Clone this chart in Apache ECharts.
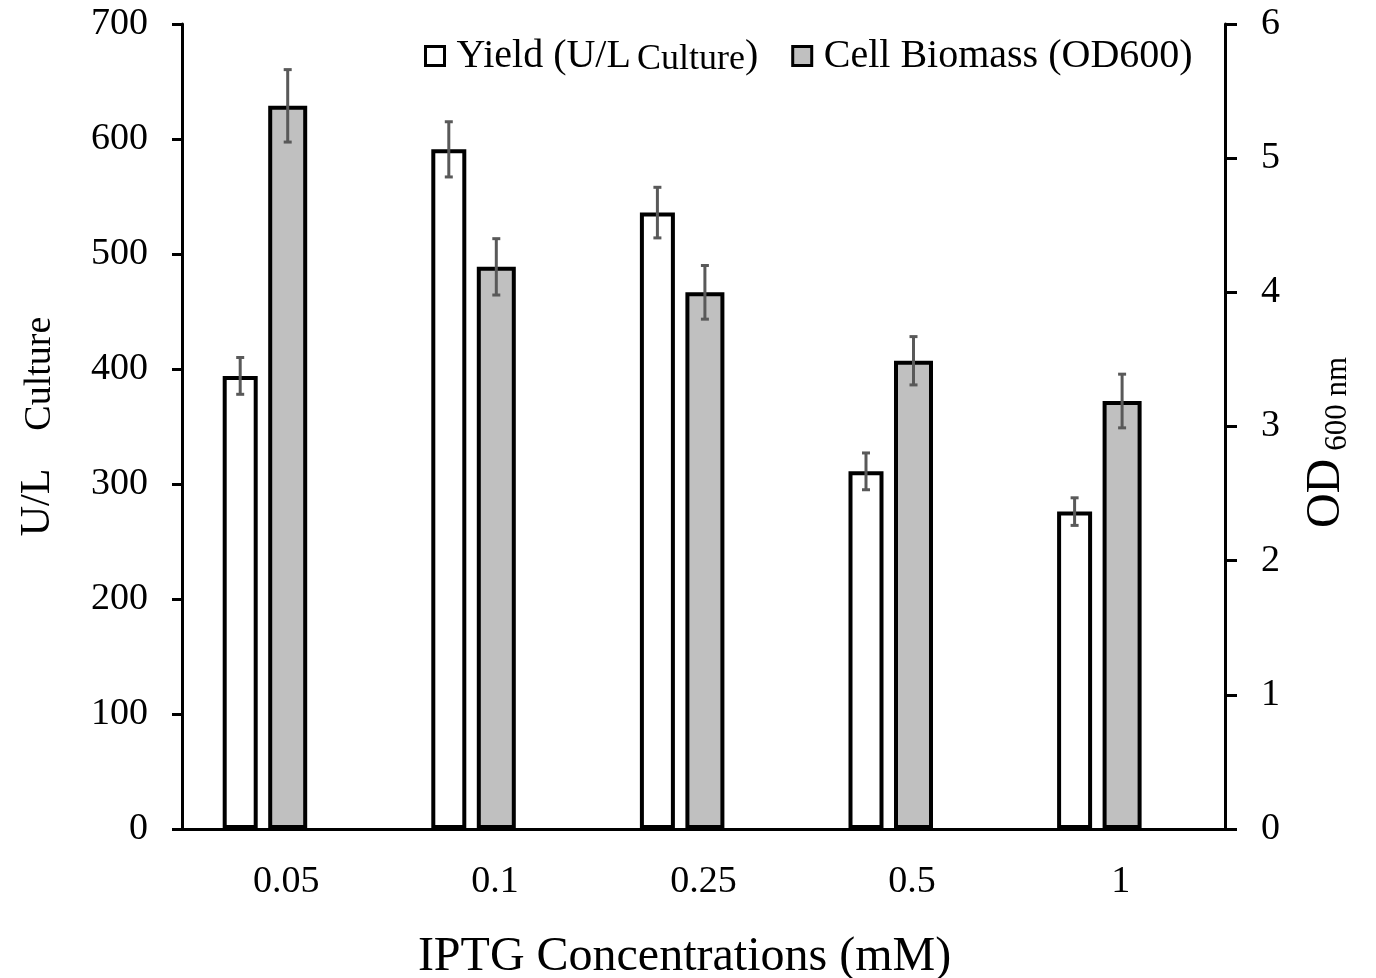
<!DOCTYPE html>
<html>
<head>
<meta charset="utf-8">
<title>IPTG</title>
<script src="https://cdn.jsdelivr.net/npm/echarts@6/dist/echarts.min.js"></script>
<style>
  html, body { margin: 0; padding: 0; background: #fff; }
  #main { width: 1376px; height: 978px; }
</style>
</head>
<body>
<div id="main"></div>
<script>
// data
var categories = ['0.05', '0.1', '0.25', '0.5', '1'];
var yieldVals = [394, 591, 536, 311, 276];      // U/L culture
var yieldErr = [16, 24, 22, 16, 12];
var biomassVals = [5.39, 4.19, 4.0, 3.49, 3.19]; // OD600
var biomassErr = [0.27, 0.21, 0.2, 0.18, 0.2];
var leftTicks = { min: 0, max: 700, interval: 100 };
var rightTicks = { min: 0, max: 6, interval: 1 };

var FONT = '"Liberation Serif", "Times New Roman", serif';
var W_YIELD = 35, W_BIO = 39, W_SPACER = 31, GAP = 0.3;

// pair sits left of the category centre (empty spacer slot on the right)
var total = (W_YIELD + W_BIO) * (1 + GAP) + W_SPACER;
var offYield = -total / 2 + W_YIELD / 2;
var offBio = -total / 2 + W_YIELD * (1 + GAP) + W_BIO / 2;

function errData(vals, errs) {
  var out = [];
  for (var i = 0; i < vals.length; i++) out.push([i, vals[i], errs[i]]);
  return out;
}

function errRender(offset) {
  return function (params, api) {
    var i = api.value(0), v = api.value(1), e = api.value(2);
    var hi = api.coord([i, v + e]);
    var lo = api.coord([i, v - e]);
    var x = hi[0] + offset;
    var st = { stroke: '#595959', lineWidth: 3 };
    return {
      type: 'group',
      children: [
        { type: 'line', shape: { x1: x, y1: hi[1], x2: x, y2: lo[1] }, style: st },
        { type: 'line', shape: { x1: x - 4, y1: hi[1], x2: x + 4, y2: hi[1] }, style: st },
        { type: 'line', shape: { x1: x - 4, y1: lo[1], x2: x + 4, y2: lo[1] }, style: st }
      ]
    };
  };
}

var myChart = echarts.init(document.getElementById('main'));

var option = {
  animation: false,
  grid: { left: 182, right: 151, top: 24, bottom: 149, outerBoundsMode: 'none', containLabel: false },
  legend: {
    data: ['Yield (U/L Culture)', 'Cell Biomass (OD600)'],
    left: 419,
    top: 28,
    itemWidth: 19,
    itemHeight: 19,
    itemGap: 33,
    icon: 'rect',
    itemStyle: { borderColor: '#000', borderWidth: 3 },
    textStyle: {
      fontFamily: FONT, fontSize: 40, color: '#000', lineHeight: 46,
      rich: {
        a: { fontFamily: FONT, fontSize: 40, color: '#000', lineHeight: 46 },
        p: { fontFamily: FONT, fontSize: 40, color: '#000', lineHeight: 46, padding: [0, 0, 0, 7] },
        c: { fontFamily: FONT, fontSize: 36, color: '#000', lineHeight: 46, padding: [8, 0, 0, 6] }
      }
    },
    formatter: function (name) {
      if (name.indexOf('Yield') === 0) return '{p|Yield (U/L}{c|Culture}{a|)}';
      return '{p|' + name + '}';
    }
  },
  xAxis: {
    type: 'category',
    data: categories,
    axisLine: { show: true, lineStyle: { color: '#000', width: 3 } },
    axisTick: { show: false },
    axisLabel: { fontFamily: FONT, fontSize: 38, color: '#000', margin: 34 },
    name: 'IPTG Concentrations (mM)',
    nameLocation: 'middle',
    nameGap: 104,
    nameTextStyle: { fontFamily: FONT, fontSize: 48, color: '#000', padding: [0, 38, 0, 0] }
  },
  yAxis: [{
    type: 'value',
    min: leftTicks.min, max: leftTicks.max, interval: leftTicks.interval,
    splitLine: { show: false },
    axisLine: { show: true, lineStyle: { color: '#000', width: 3 } },
    axisTick: { show: true, length: 10, lineStyle: { color: '#000', width: 3 } },
    axisLabel: { fontFamily: FONT, fontSize: 38, color: '#000', margin: 34 },
    name: '{a|U/L}{b|Culture}',
    nameLocation: 'middle',
    nameGap: 121,
    nameTextStyle: {
      rich: {
        a: { fontFamily: FONT, fontSize: 42, color: '#000', lineHeight: 46, padding: [0, 38, 0, 0] },
        b: { fontFamily: FONT, fontSize: 38, color: '#000', lineHeight: 46, padding: [4, 0, 0, 0] }
      }
    }
  }, {
    type: 'value',
    position: 'right',
    min: rightTicks.min, max: rightTicks.max, interval: rightTicks.interval,
    splitLine: { show: false },
    axisLine: { show: true, lineStyle: { color: '#000', width: 3 } },
    axisTick: { show: true, length: 12, lineStyle: { color: '#000', width: 3 } },
    axisLabel: { fontFamily: FONT, fontSize: 38, color: '#000', margin: 36 },
    name: '{a|OD}{b|600 nm}',
    nameLocation: 'middle',
    nameGap: 74,
    nameTextStyle: {
      padding: [0, 32, 0, 0],
      rich: {
        a: { fontFamily: FONT, fontSize: 48, color: '#000', lineHeight: 54 },
        b: { fontFamily: FONT, fontSize: 31, color: '#000', lineHeight: 54, padding: [24, 0, 0, 8] }
      }
    }
  }],
  series: [{
    name: 'Yield (U/L Culture)',
    type: 'bar',
    yAxisIndex: 0,
    barWidth: W_YIELD,
    barGap: (GAP * 100) + '%',
    data: yieldVals,
    itemStyle: { color: '#fff', borderColor: '#000', borderWidth: 4 }
  }, {
    name: 'Cell Biomass (OD600)',
    type: 'bar',
    yAxisIndex: 1,
    barWidth: W_BIO,
    barGap: (GAP * 100) + '%',
    data: biomassVals,
    itemStyle: { color: '#c0c0c0', borderColor: '#000', borderWidth: 4 }
  }, {
    name: 'spacer',
    type: 'bar',
    yAxisIndex: 0,
    barWidth: W_SPACER,
    barGap: (GAP * 100) + '%',
    data: [],
    silent: true
  }, {
    name: 'yieldErr',
    type: 'custom',
    yAxisIndex: 0,
    z: 5,
    renderItem: errRender(offYield),
    encode: { x: 0, y: 1 },
    data: errData(yieldVals, yieldErr)
  }, {
    name: 'biomassErr',
    type: 'custom',
    yAxisIndex: 1,
    z: 5,
    renderItem: errRender(offBio),
    encode: { x: 0, y: 1 },
    data: errData(biomassVals, biomassErr)
  }]
};

myChart.setOption(option);
</script>
</body>
</html>
